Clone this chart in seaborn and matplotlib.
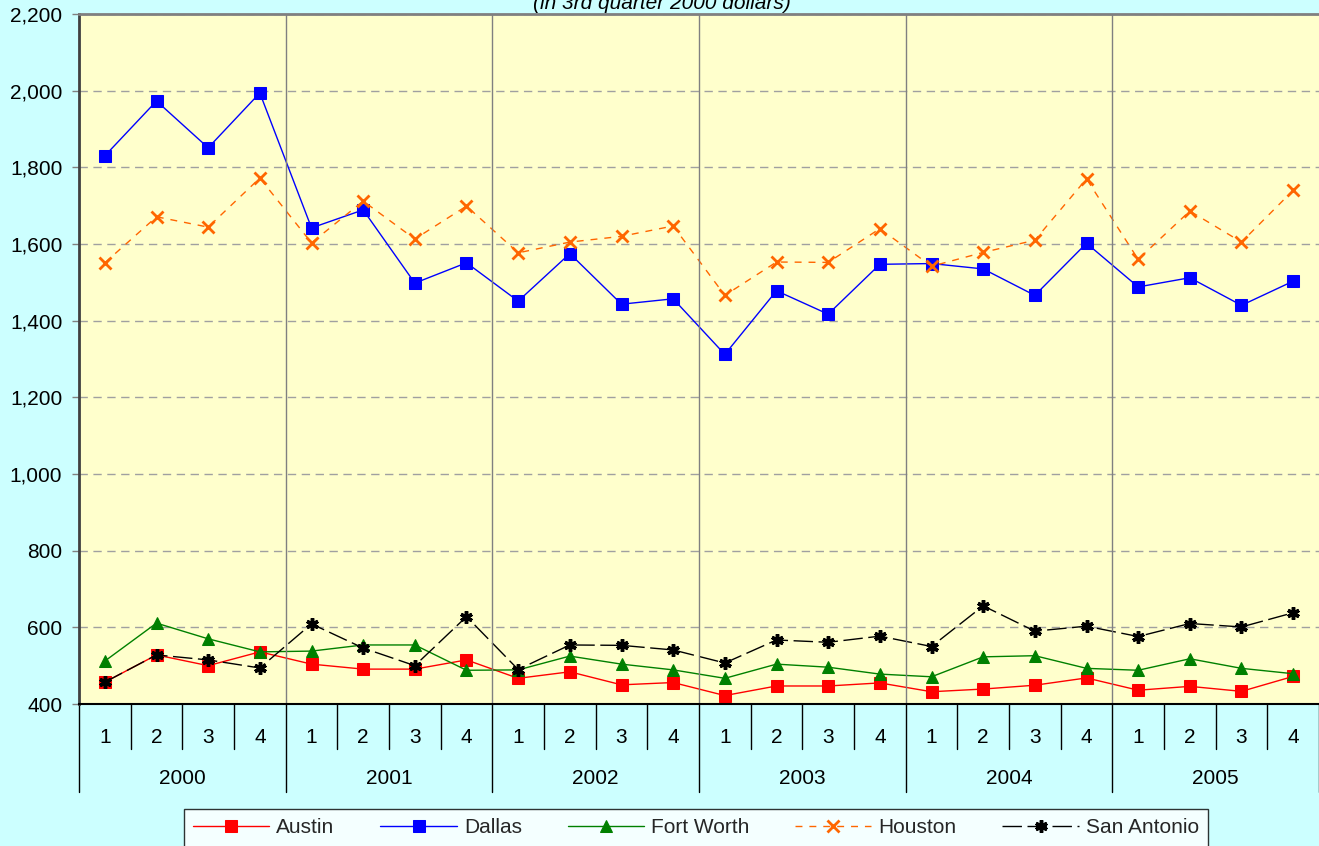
import matplotlib
matplotlib.use("Agg")
import matplotlib.pyplot as plt
import matplotlib.transforms as mtransforms
from matplotlib.ticker import FuncFormatter
import seaborn as sns

years = ["2000", "2001", "2002", "2003", "2004", "2005"]
quarters = ["1", "2", "3", "4"]

austin = [457, 528, 500, 536, 504, 491, 491, 515, 467, 484, 450, 456,
          422, 447, 447, 455, 432, 439, 449, 468, 436, 446, 433, 472]
dallas = [1830, 1973, 1851, 1994, 1642, 1689, 1498, 1551, 1451, 1575, 1443, 1457,
          1312, 1478, 1417, 1547, 1549, 1535, 1466, 1602, 1488, 1512, 1440, 1503]
fort_worth = [512, 611, 570, 536, 538, 554, 554, 488, 489, 525, 504, 489,
              467, 504, 496, 478, 471, 523, 526, 493, 488, 518, 493, 479]
houston = [1551, 1671, 1644, 1772, 1603, 1712, 1613, 1699, 1577, 1605, 1620, 1647,
           1466, 1553, 1552, 1640, 1542, 1578, 1610, 1770, 1560, 1686, 1605, 1740]
san_antonio = [457, 528, 515, 494, 609, 546, 500, 628, 490, 554, 553, 541,
               507, 567, 561, 577, 550, 656, 590, 603, 576, 610, 601, 638]

series = [
    ("Austin", austin, dict(color="#FF0000", marker="s", markersize=8, linestyle="-")),
    ("Dallas", dallas, dict(color="#0000FF", marker="s", markersize=8, linestyle="-")),
    ("Fort Worth", fort_worth, dict(color="#008000", marker="^", markersize=8, linestyle="-")),
    ("Houston", houston, dict(color="#FF6600", marker="x", markersize=8, markeredgewidth=2,
                              linestyle=(0, (5, 5)))),
    ("San Antonio", san_antonio, dict(color="#000000", marker=(6, 2, 0), markersize=9,
                                      markeredgewidth=2.5, linestyle=(0, (14, 4)))),
]

FS = 15

sns.set_theme(style="white")
plt.rcParams["font.family"] = ["Liberation Sans", "DejaVu Sans"]

fig = plt.figure(figsize=(13.19, 8.46), dpi=100, facecolor="#CCFFFF")
ax = fig.add_axes([79 / 1319, 142 / 846, 1240 / 1319, 690 / 846])
ax.set_facecolor("#FFFFCC")

n = len(years) * len(quarters)
xs = list(range(n))

for name, vals, style in series:
    sns.lineplot(x=xs, y=vals, ax=ax, label=name, linewidth=1, markeredgecolor=style["color"],
                 **style)

ax.set_ylim(400, 2200)
ax.set_xlim(-0.5, n - 0.5)
ax.set_yticks(range(400, 2201, 200))
ax.yaxis.set_major_formatter(FuncFormatter(lambda v, p: f"{int(v):,}"))
ax.tick_params(axis="y", labelsize=FS, length=5, width=1, color="#808080", left=True, pad=7,
               labelcolor="black")
ax.grid(axis="y", color="#A0A0A0", linestyle=(0, (6, 4)), linewidth=1)
ax.set_xlabel("")
ax.set_ylabel("")

# year separators inside plot
for i in range(1, len(years)):
    ax.axvline(i * 4 - 0.5, color="#808080", linewidth=1)

# category axis: quarters and years
ax.set_xticks(xs)
ax.set_xticklabels(quarters * len(years))
ax.tick_params(axis="x", length=0, labelsize=FS, pad=17, labelcolor="black")
trans = mtransforms.blended_transform_factory(ax.transData, ax.transAxes)
q_len = 45 / 690
y_len = 88 / 690
for i in range(n + 1):
    x = i - 0.5
    if i % 4 == 0:
        ax.plot([x, x], [0, -y_len], transform=trans, color="black", linewidth=1, clip_on=False)
    else:
        ax.plot([x, x], [0, -q_len], transform=trans, color="black", linewidth=1, clip_on=False)
for j, yr in enumerate(years):
    ax.text(j * 4 + 1.5, -74 / 690, yr, transform=trans, ha="center", va="center",
            fontsize=FS, color="black")

ax.spines["right"].set_visible(False)
ax.spines["left"].set_color("#404040")
ax.spines["left"].set_linewidth(2)
ax.spines["top"].set_color("#808080")
ax.spines["top"].set_linewidth(2)
ax.spines["bottom"].set_color("black")
ax.spines["bottom"].set_linewidth(1.5)

fig.text(662 / 1319, 1 - 9 / 846, "(in 3rd quarter 2000 dollars)", ha="center", va="baseline",
         fontsize=FS, style="italic", color="black")

leg = ax.legend(loc="upper center", bbox_to_anchor=(696 / 1319, 1 - 809 / 846),
                bbox_transform=fig.transFigure, ncol=5, frameon=True, fancybox=False,
                fontsize=FS, handlelength=3.65, columnspacing=2.2, borderpad=0.45,
                handletextpad=0.35, borderaxespad=0)
leg.get_frame().set_edgecolor("black")
leg.get_frame().set_linewidth(1)
leg.get_frame().set_facecolor("white")

fig.savefig("out.png", dpi=100, facecolor=fig.get_facecolor())
